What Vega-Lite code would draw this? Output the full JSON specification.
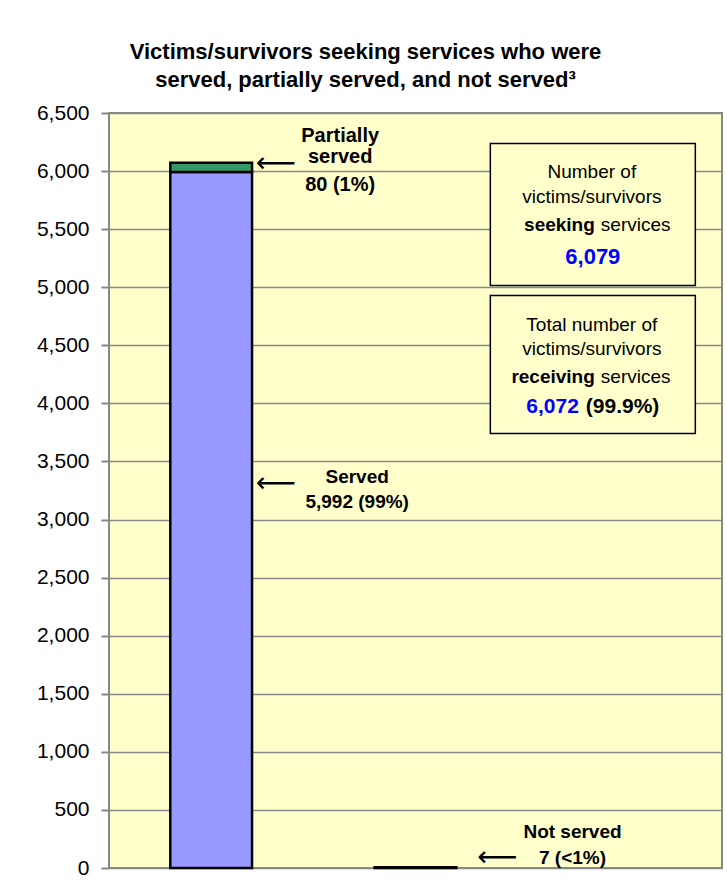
{
  "$schema": "https://vega.github.io/schema/vega-lite/v6.json",
  "width": 613,
  "height": 755,
  "autosize": {"type": "none"},
  "padding": {"left": 109, "top": 113, "right": 5, "bottom": 23},
  "background": "white",
  "config": {
    "font": "Liberation Sans, Arial, sans-serif",
    "view": {"fill": "#FFFFCC", "stroke": "#888888", "strokeWidth": 2}
  },
  "title": {
    "text": ["Victims/survivors seeking services who were", "served, partially served, and not served³"],
    "fontSize": 22,
    "fontWeight": "bold",
    "color": "black",
    "anchor": "middle",
    "frame": "group",
    "dx": -50,
    "lineHeight": 28,
    "offset": 10
  },
  "datasets": {
    "bars": [
      {"cat": "A", "status": "Served", "v": 5992},
      {"cat": "A", "status": "Partially served", "v": 80},
      {"cat": "B", "status": "Not served", "v": 7}
    ],
    "boxes": [
      {"cat": "C", "v": 5015, "v2": 6237},
      {"cat": "C", "v": 3740, "v2": 4929}
    ],
    "partial": [
      {"cat": "A", "v": 6300, "t": "Partially"},
      {"cat": "A", "v": 6125, "t": "served"},
      {"cat": "A", "v": 5876, "t": "80 (1%)"}
    ],
    "served": [
      {"cat": "A", "v": 3363, "t": "Served"},
      {"cat": "A", "v": 3148, "t": "5,992 (99%)"}
    ],
    "notserved": [
      {"cat": "B", "v": 306, "t": "Not served"},
      {"cat": "B", "v": 90, "t": "7 (<1%)"}
    ],
    "arrowsA": [
      {"cat": "A", "v": 6060, "t": "⟵"},
      {"cat": "A", "v": 3310, "t": "⟵"}
    ],
    "arrowsB": [
      {"cat": "B", "v": 82, "t": "⟵"}
    ],
    "boxtext": [
      {"cat": "C", "v": 5991, "t": "Number of"},
      {"cat": "C", "v": 5781, "t": "victims/survivors"},
      {"cat": "C", "v": 4674, "t": "Total number of"},
      {"cat": "C", "v": 4466, "t": "victims/survivors"}
    ],
    "boldwords": [
      {"cat": "C", "v": 5540, "t": "seeking"},
      {"cat": "C", "v": 4231, "t": "receiving"}
    ],
    "services": [
      {"cat": "C", "v": 5540, "t": "services"},
      {"cat": "C", "v": 4231, "t": "services"}
    ],
    "seekingTotal": [
      {"cat": "C", "v": 5256, "t": "6,079"}
    ],
    "receivingTotal": [
      {"cat": "C", "v": 3973, "t": "6,072"}
    ],
    "receivingPct": [
      {"cat": "C", "v": 3973, "t": "(99.9%)"}
    ]
  },
  "encoding": {
    "x": {
      "field": "cat",
      "type": "nominal",
      "scale": {"domain": ["A", "B", "C"], "paddingInner": 0.6, "paddingOuter": 0.3},
      "axis": {"labels": false, "ticks": false, "domain": false, "title": null}
    },
    "y": {
      "field": "v",
      "type": "quantitative",
      "scale": {"domain": [0, 6500], "nice": false, "zero": true},
      "axis": {
        "title": null,
        "values": [0, 500, 1000, 1500, 2000, 2500, 3000, 3500, 4000, 4500, 5000, 5500, 6000, 6500],
        "format": ",.0f",
        "labelFontSize": 21,
        "labelColor": "black",
        "labelPadding": 12,
        "tickSize": 8,
        "tickColor": "#888888",
        "tickWidth": 2,
        "domain": false,
        "gridColor": "#888888",
        "gridWidth": 1.5,
        "gridOpacity": 1
      }
    }
  },
  "layer": [
    {
      "data": {"name": "bars"},
      "mark": {"type": "bar", "stroke": "black", "strokeWidth": 2.5},
      "encoding": {
        "color": {
          "field": "status",
          "type": "nominal",
          "scale": {"domain": ["Served", "Partially served", "Not served"], "range": ["#9999FF", "#339966", "#FF0000"]},
          "legend": null
        },
        "order": {"field": "status", "sort": "descending"}
      }
    },
    {
      "data": {"name": "boxes"},
      "mark": {"type": "bar", "width": 205, "xOffset": -27, "fill": "#FFFFCC", "stroke": "black", "strokeWidth": 1.5},
      "encoding": {"y2": {"field": "v2"}}
    },
    {
      "data": {"name": "partial"},
      "mark": {"type": "text", "fontSize": 20, "fontWeight": "bold", "align": "center", "baseline": "middle", "dx": 129, "color": "black"},
      "encoding": {"text": {"field": "t"}}
    },
    {
      "data": {"name": "served"},
      "mark": {"type": "text", "fontSize": 19, "fontWeight": "bold", "align": "center", "baseline": "middle", "dx": 146, "color": "black"},
      "encoding": {"text": {"field": "t"}}
    },
    {
      "data": {"name": "notserved"},
      "mark": {"type": "text", "fontSize": 19, "fontWeight": "bold", "align": "center", "baseline": "middle", "dx": 157, "color": "black"},
      "encoding": {"text": {"field": "t"}}
    },
    {
      "data": {"name": "arrowsA"},
      "mark": {"type": "text", "font": "DejaVu Sans", "fontSize": 28, "align": "center", "baseline": "middle", "dx": 65, "color": "black"},
      "encoding": {"text": {"field": "t"}}
    },
    {
      "data": {"name": "arrowsB"},
      "mark": {"type": "text", "font": "DejaVu Sans", "fontSize": 28, "align": "center", "baseline": "middle", "dx": 82, "color": "black"},
      "encoding": {"text": {"field": "t"}}
    },
    {
      "data": {"name": "boxtext"},
      "mark": {"type": "text", "fontSize": 19, "align": "center", "baseline": "middle", "dx": -28, "color": "black"},
      "encoding": {"text": {"field": "t"}}
    },
    {
      "data": {"name": "boldwords"},
      "mark": {"type": "text", "fontSize": 19, "fontWeight": "bold", "align": "right", "baseline": "middle", "dx": -25, "color": "black"},
      "encoding": {"text": {"field": "t"}}
    },
    {
      "data": {"name": "services"},
      "mark": {"type": "text", "fontSize": 19, "align": "left", "baseline": "middle", "dx": -19, "color": "black"},
      "encoding": {"text": {"field": "t"}}
    },
    {
      "data": {"name": "seekingTotal"},
      "mark": {"type": "text", "fontSize": 22, "fontWeight": "bold", "align": "center", "baseline": "middle", "dx": -27, "color": "#0000FF"},
      "encoding": {"text": {"field": "t"}}
    },
    {
      "data": {"name": "receivingTotal"},
      "mark": {"type": "text", "fontSize": 21, "fontWeight": "bold", "align": "right", "baseline": "middle", "dx": -41, "color": "#0000FF"},
      "encoding": {"text": {"field": "t"}}
    },
    {
      "data": {"name": "receivingPct"},
      "mark": {"type": "text", "fontSize": 21, "fontWeight": "bold", "align": "left", "baseline": "middle", "dx": -34, "color": "black"},
      "encoding": {"text": {"field": "t"}}
    }
  ]
}
